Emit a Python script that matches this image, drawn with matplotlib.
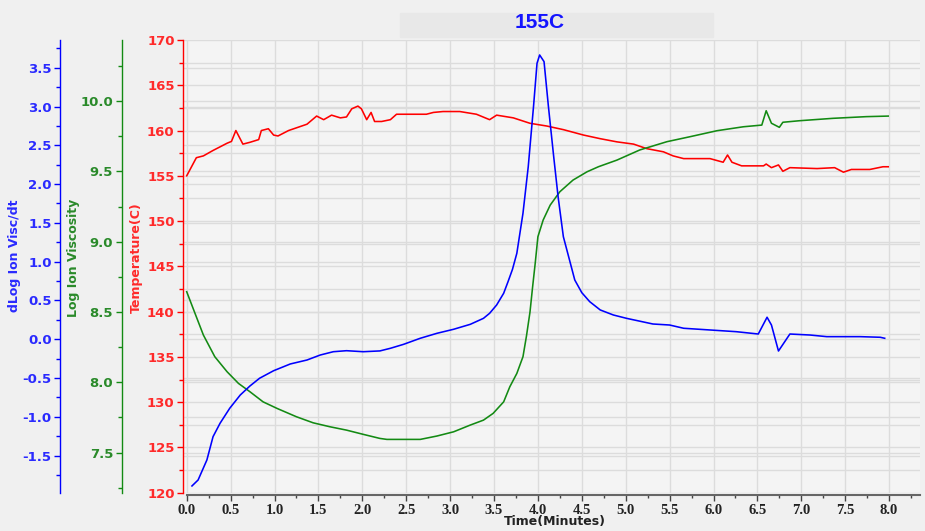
import numpy as np
import matplotlib.pyplot as plt
from matplotlib.ticker import MultipleLocator, FormatStrFormatter
from matplotlib.transforms import blended_transform_factory

# Temperature (red)
temp_t = [0.00, 0.11, 0.19, 0.30, 0.46, 0.51, 0.56, 0.64, 0.72, 0.82, 0.85, 0.93, 0.99,
          1.04, 1.16, 1.25, 1.37, 1.48, 1.56, 1.65, 1.75, 1.82, 1.88, 1.95, 1.99, 2.05,
          2.10, 2.14, 2.22, 2.32, 2.39, 2.54, 2.73, 2.81, 2.92, 3.11, 3.30, 3.45, 3.53,
          3.72, 3.91, 4.10, 4.29, 4.52, 4.71, 4.90, 5.09, 5.24, 5.43, 5.54, 5.66, 5.96,
          6.11, 6.16, 6.21, 6.32, 6.57, 6.60, 6.66, 6.74, 6.79, 6.87, 7.18, 7.38, 7.48,
          7.57, 7.78, 7.93, 7.99]
temp_c = [155.0, 157.0, 157.2, 157.8, 158.6, 158.8, 160.0, 158.5, 158.7, 159.0, 160.0, 160.2, 159.5,
          159.4, 160.0, 160.3, 160.7, 161.6, 161.2, 161.7, 161.4, 161.5, 162.4, 162.7, 162.4, 161.2,
          162.0, 161.0, 161.0, 161.2, 161.8, 161.8, 161.8, 162.0, 162.1, 162.1, 161.8, 161.2, 161.7,
          161.4, 160.8, 160.5, 160.1, 159.5, 159.1, 158.75, 158.5, 158.0, 157.65, 157.2, 156.9, 156.9,
          156.5, 157.3, 156.5, 156.1, 156.1, 156.3, 155.9, 156.2, 155.5, 155.9, 155.8, 155.9, 155.4,
          155.7, 155.7, 156.0, 156.0]

# Log ion viscosity (green)
visc_t = [0.00, 0.08, 0.19, 0.32, 0.46, 0.59, 0.72, 0.87, 1.03, 1.25, 1.44, 1.63, 1.82,
          2.01, 2.20, 2.28, 2.47, 2.66, 2.85, 3.04, 3.23, 3.38, 3.49, 3.61, 3.68, 3.76,
          3.83, 3.87, 3.91, 3.94, 3.97, 4.00, 4.06, 4.14, 4.25, 4.40, 4.56, 4.69, 4.90,
          5.16, 5.47, 5.73, 6.04, 6.34, 6.55, 6.60, 6.66, 6.75, 6.79, 6.98, 7.36, 7.74, 7.99]
visc = [8.644, 8.514, 8.336, 8.182, 8.075, 7.992, 7.933, 7.861, 7.814, 7.755, 7.712, 7.684, 7.660,
        7.630, 7.601, 7.594, 7.594, 7.594, 7.618, 7.648, 7.696, 7.731, 7.779, 7.861, 7.968, 8.063,
        8.182, 8.33, 8.50, 8.68, 8.85, 9.035, 9.154, 9.26, 9.355, 9.438, 9.497, 9.533, 9.580,
        9.652, 9.711, 9.746, 9.789, 9.817, 9.829, 9.931, 9.842, 9.813, 9.849, 9.860, 9.877, 9.889, 9.893]

# dLog ion visc / dt (blue)
deriv_t = [0.06, 0.13, 0.23, 0.30, 0.38, 0.49, 0.61, 0.72, 0.83, 0.99, 1.18, 1.37, 1.52,
           1.67, 1.82, 2.01, 2.20, 2.32, 2.47, 2.66, 2.85, 3.04, 3.23, 3.38, 3.45, 3.53,
           3.61, 3.66, 3.71, 3.76, 3.83, 3.89, 3.95, 3.99, 4.02, 4.07, 4.12, 4.18, 4.23, 4.29,
           4.37, 4.42, 4.50, 4.59, 4.71, 4.86, 5.01, 5.31, 5.50, 5.66, 5.96, 6.26, 6.51,
           6.61, 6.66, 6.74, 6.87, 7.10, 7.29, 7.67, 7.90, 7.95]
deriv = [-1.890, -1.813, -1.555, -1.255, -1.082, -0.889, -0.718, -0.602, -0.502, -0.405, -0.318, -0.267, -0.203,
         -0.160, -0.147, -0.160, -0.150, -0.116, -0.065, 0.013, 0.077, 0.129, 0.193, 0.270, 0.335, 0.442,
         0.593, 0.743, 0.900, 1.108, 1.624, 2.224, 2.998, 3.557, 3.664, 3.578, 2.998, 2.353, 1.838, 1.322,
         0.979, 0.764, 0.601, 0.485, 0.378, 0.313, 0.270, 0.197, 0.184, 0.142, 0.120, 0.098, 0.068,
         0.284, 0.184, -0.151, 0.068, 0.055, 0.034, 0.034, 0.026, 0.013]

RED, GREEN, BLUE = "#ff0000", "#138a13", "#0000ff"
RED_T, GREEN_T, BLUE_T = "#ff2a2a", "#2a8a2a", "#2a2aff"
GRID = "#dcdcdc"

fig = plt.figure(figsize=(9.25, 5.31), dpi=100, facecolor="#f0f0f0")
W, H = 925, 531
x0, x1, ytop, ybot = 183, 920, 40, 492.7
ax = fig.add_axes([x0 / W, (H - ybot) / H, (x1 - x0) / W, (ybot - ytop) / H])
ax.set_facecolor("#f4f4f4")

# title banner
fig.patches.append(plt.Rectangle((400 / W, 1 - 37 / H), 313 / W, 24 / H, transform=fig.transFigure,
                                 color="#e8e8e8", zorder=0))
fig.text(540 / W, 1 - 23 / H, "155C", color="#1414ff", fontsize=15, fontweight="bold",
         family="Liberation Sans", ha="center", va="center")

ax_g = ax.twinx()
ax_b = ax.twinx()
axes = [(ax, RED, RED_T, 0, (120, 170), 5, 2.5, "%d"),
        (ax_g, GREEN, GREEN_T, 61.5, (7.215, 10.434), 0.5, 0.25, "%.1f"),
        (ax_b, BLUE, BLUE_T, 123, (-1.977, 3.857), 0.5, 0.25, "%.1f")]
for a, col, tcol, off, lim, maj, mnr, fmt in axes:
    a.set_ylim(*lim)
    a.yaxis.set_major_locator(MultipleLocator(maj))
    a.yaxis.set_minor_locator(MultipleLocator(mnr))
    a.yaxis.set_major_formatter(FormatStrFormatter(fmt))
    a.yaxis.set_ticks_position("left")
    a.yaxis.set_label_position("left")
    for s in ["top", "right", "bottom"]:
        a.spines[s].set_visible(False)
    a.spines["left"].set_visible(True)
    a.spines["left"].set_color(col)
    a.spines["left"].set_linewidth(1.0)
    a.spines["left"].set_position(("outward", off * 0.72))
    a.tick_params(axis="y", which="major", colors=col, length=4, width=1, labelsize=9.5,
                  labelcolor=tcol, pad=2)
    a.tick_params(axis="y", which="minor", colors=col, length=3, width=1)
    for lb in a.get_yticklabels():
        lb.set_fontweight("bold")
        lb.set_family("DejaVu Sans")

xmax = (x1 - 186.7) / 87.8
xmin = -3.7 / 87.8
for a in (ax, ax_g, ax_b):
    a.set_xlim(xmin, xmax)

ax.spines["bottom"].set_visible(True)
ax.spines["bottom"].set_position(("outward", 2))
ax.spines["bottom"].set_bounds(0, xmax)
ax.spines["bottom"].set_color("#666666")
ax.spines["bottom"].set_linewidth(1.5)
ax.xaxis.set_major_locator(MultipleLocator(0.5))
ax.xaxis.set_minor_locator(MultipleLocator(0.25))
ax.xaxis.set_major_formatter(FormatStrFormatter("%.1f"))
ax.tick_params(axis="x", which="major", colors="#444444", length=4, width=1, labelsize=10.5,
               labelcolor="#222222", pad=2)
ax.tick_params(axis="x", which="minor", colors="#444444", length=2.5, width=1)
for lb in ax.get_xticklabels():
    lb.set_fontweight("bold")
    lb.set_family("Liberation Serif")

# grids
ax.grid(axis="x", which="major", color=GRID, lw=1)
ax.grid(axis="y", which="both", color=GRID, lw=1)
ax.set_axisbelow(True)
for a, vals in [(ax_g, np.arange(7.5, 10.01, 0.5)), (ax_b, np.arange(-1.5, 3.51, 0.5))]:
    tr = blended_transform_factory(ax.transAxes, a.transData)
    for v in vals:
        ax.plot([0, 1], [v, v], transform=tr, color=GRID, lw=1, zorder=0.5)

ax.plot(temp_t, temp_c, color=RED, lw=1.15, zorder=3)
ax_g.plot(visc_t, visc, color=GREEN, lw=1.15)
ax_b.plot(deriv_t, deriv, color=BLUE, lw=1.15)

fig.text(15 / W, 1 - 256 / H, "dLog Ion Visc/dt", rotation=90, color=BLUE_T, fontsize=9,
         fontweight="bold", ha="center", va="center")
fig.text(74 / W, 1 - 258 / H, "Log Ion Viscosity", rotation=90, color=GREEN_T, fontsize=9,
         fontweight="bold", ha="center", va="center")
fig.text(136 / W, 1 - 258 / H, "Temperature(C)", rotation=90, color=RED_T, fontsize=9,
         fontweight="bold", ha="center", va="center")
fig.text(555 / W, 1 - 522 / H, "Time(Minutes)", color="#222222", fontsize=9,
         fontweight="bold", ha="center", va="center")

fig.savefig("out.png", dpi=100, facecolor=fig.get_facecolor())
